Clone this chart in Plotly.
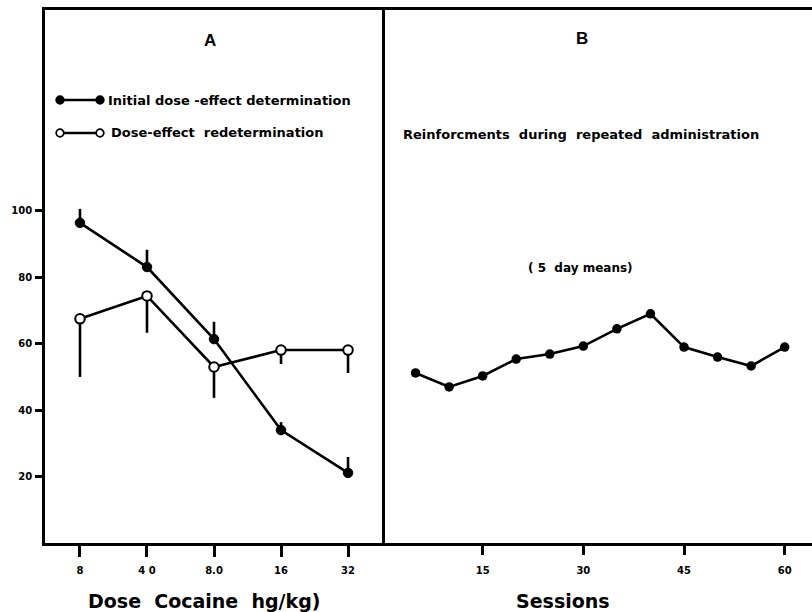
import plotly.graph_objects as go

# ---- data ----
dose_labels = ["8", "4 0", "8.0", "16", "32"]
dose_pos = [0, 1, 2, 3, 4]
initial = [96.4, 83.1, 61.4, 34.0, 21.1]
initial_err_up = [4.2, 5.2, 5.2, 2.4, 4.8]
redet = [67.5, 74.4, 53.0, 58.1, 58.1]
redet_err_down = [17.5, 11.1, 9.3, 4.2, 6.9]

sessions = [5, 10, 15, 20, 25, 30, 35, 40, 45, 50, 55, 60]
reinf = [51.2, 47.0, 50.3, 55.4, 56.9, 59.3, 64.5, 69.0, 59.0, 56.0, 53.3, 59.0]
session_ticks = [15, 30, 45, 60]
y_ticks = [20, 40, 60, 80, 100]

W, H = 812, 612
ML, MR, MT, MB = 45, 0, 10, 69
PW, PH = W - ML - MR, H - MT - MB

def px(x):
    return (x - ML) / PW

def py(y):
    return (H - MB - y) / PH

FONT = "Liberation Sans"
WFONT = "DejaVu Sans"
BLACK = "#000000"
LW = 2.6

fig = go.Figure()

fig.add_trace(go.Scatter(
    x=dose_pos, y=initial, mode="lines+markers", xaxis="x", yaxis="y",
    line=dict(color=BLACK, width=LW),
    marker=dict(size=9.5, color=BLACK, line=dict(color=BLACK, width=1)),
    error_y=dict(type="data", symmetric=False, array=initial_err_up,
                 arrayminus=[0] * len(initial), width=0, thickness=LW, color=BLACK),
    showlegend=False, hoverinfo="skip"))

fig.add_trace(go.Scatter(
    x=dose_pos, y=redet, mode="lines+markers", xaxis="x", yaxis="y",
    line=dict(color=BLACK, width=LW),
    marker=dict(size=9.5, color="white", line=dict(color=BLACK, width=2)),
    error_y=dict(type="data", symmetric=False, array=[0] * len(redet),
                 arrayminus=redet_err_down, width=0, thickness=LW, color=BLACK),
    showlegend=False, hoverinfo="skip"))

fig.add_trace(go.Scatter(
    x=sessions, y=reinf, mode="lines+markers", xaxis="x2", yaxis="y2",
    line=dict(color=BLACK, width=LW),
    marker=dict(size=9.5, color=BLACK),
    showlegend=False, hoverinfo="skip"))

xsplit = px(382)
tickfont = dict(family=WFONT, size=10, color=BLACK, weight="bold")

fig.update_layout(
    width=W, height=H,
    margin=dict(l=ML, r=MR, t=MT, b=MB),
    paper_bgcolor="white", plot_bgcolor="white",
    xaxis=dict(domain=[0, xsplit], range=[-0.522, 4.507],
               tickvals=dose_pos, ticktext=dose_labels,
               showgrid=False, zeroline=False,
               showline=True, mirror=True, linecolor=BLACK, linewidth=LW,
               ticks="outside", ticklen=11, tickwidth=2.5, tickcolor=BLACK,
               ticklabelstandoff=5,
               tickfont=tickfont, anchor="y"),
    yaxis=dict(domain=[0, 1], range=[0, 160.5], tickvals=y_ticks,
               showgrid=False, zeroline=False,
               showline=True, mirror=True, linecolor=BLACK, linewidth=LW,
               ticks="outside", ticklen=7, tickwidth=2.5, tickcolor=BLACK,
               ticklabelstandoff=1,
               tickfont=tickfont, anchor="x"),
    xaxis2=dict(domain=[xsplit, 1], range=[0, 64.07],
                tickvals=session_ticks,
                showgrid=False, zeroline=False,
                showline=True, mirror=True, linecolor=BLACK, linewidth=LW,
                ticks="outside", ticklen=9, tickwidth=2.5, tickcolor=BLACK,
                ticklabelstandoff=7,
                tickfont=tickfont, anchor="y2"),
    yaxis2=dict(domain=[0, 1], matches="y", range=[0, 160.5], visible=False,
                anchor="x2"),
)

def note(text, x, y, size, family=WFONT, xanchor="center"):
    return dict(text="<b>" + text + "</b>", x=px(x), y=py(y), xref="paper", yref="paper",
                xanchor=xanchor, yanchor="middle", showarrow=False,
                font=dict(family=family, size=size, color=BLACK))

annos = [
    note("A", 210, 41, 17, FONT),
    note("B", 582, 38, 17, FONT),
    note("Initial dose -effect determination", 106, 100, 13, WFONT, "left"),
    note("Dose-effect  redetermination", 109, 133, 13, WFONT, "left"),
    note("Reinforcments  during  repeated  administration", 401, 135, 13, WFONT, "left"),
    note("( 5  day means)", 580, 268, 12, WFONT),
    note("Dose  Cocaine  hg/kg)", 204, 601, 19, WFONT),
    note("Sessions", 563, 601, 19, WFONT),
]
fig.update_layout(annotations=annos)

# legend key samples
shapes = []
for yy, fill in [(100, BLACK), (133, "white")]:
    shapes.append(dict(type="line", xref="paper", yref="paper",
                       x0=px(60), x1=px(100), y0=py(yy), y1=py(yy),
                       line=dict(color=BLACK, width=LW)))
    for cx in (60, 100):
        r = 3.8
        shapes.append(dict(type="circle", xref="paper", yref="paper",
                           x0=px(cx - r), x1=px(cx + r), y0=py(yy + r), y1=py(yy - r),
                           fillcolor=fill, line=dict(color=BLACK, width=1.8)))
fig.update_layout(shapes=shapes)

fig.write_html("out.html")
